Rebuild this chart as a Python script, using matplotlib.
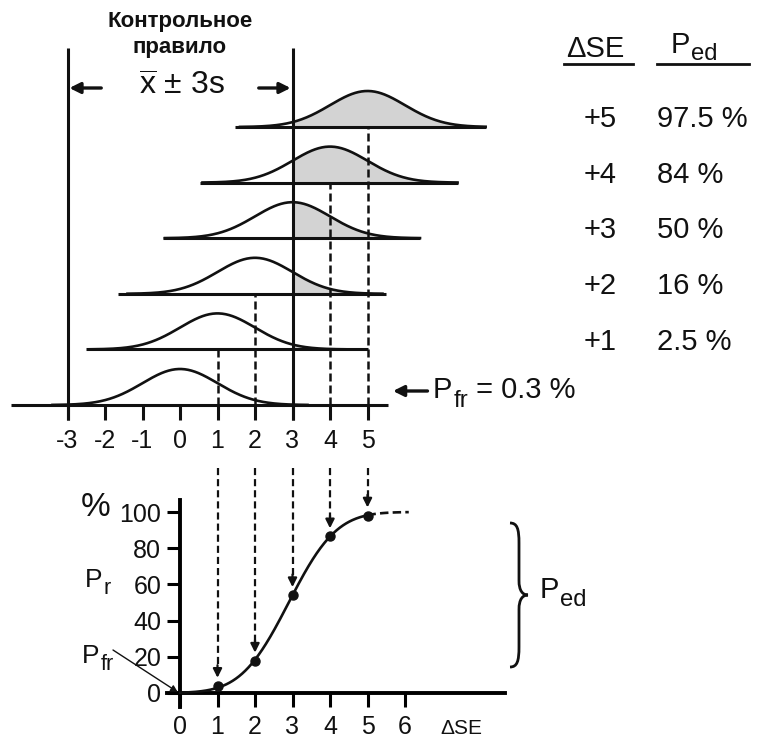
import math

import numpy as np
import matplotlib
matplotlib.use("Agg")
import matplotlib.pyplot as plt
from matplotlib.path import Path
from matplotlib.patches import PathPatch

plt.rcParams["font.family"] = ["Liberation Sans", "DejaVu Sans"]
plt.rcParams["mathtext.fontset"] = "custom"
plt.rcParams["mathtext.rm"] = "Liberation Sans"
plt.rcParams["mathtext.it"] = "Liberation Sans:italic"
plt.rcParams["mathtext.bf"] = "Liberation Sans:bold"

# --- data ------------------------------------------------------------------
SHIFTS = [0, 1, 2, 3, 4, 5]                        # ΔSE of each stacked distribution
BASE_LEFT = [-4.5, -2.5, -1.65, -0.45, 0.53, 1.47]  # where each baseline starts (s units)
BASE_RIGHT = [5.55, 5.0, 5.5, 6.4, 7.4, 8.15]     # where each baseline ends
CONTROL_LIMITS = [-3, 3]
TOP_TICKS = [-3, -2, -1, 0, 1, 2, 3, 4, 5]
TABLE_SE = ["+1", "+2", "+3", "+4", "+5"]
TABLE_PED = ["2.5 %", "16 %", "50 %", "84 %", "97.5 %"]
P_FR_TEXT = " = 0.3 %"

POWER_SE = [1, 2, 3, 4, 5]
POWER_PR = [3.9, 17.8, 54.0, 86.5, 98.0]
CURVE_MID = 2.9          # drawn power curve crosses 50 % just before ΔSE = 3
X_TICKS = [0, 1, 2, 3, 4, 5, 6]
Y_TICKS = [0, 20, 40, 60, 80, 100]

# --- layout (pixels of the 763x740 figure) ----------------------------------
W, H = 763, 740
ORIGIN_X = 180.0     # px of x = 0 (both panels)
UNIT_X = 37.5        # px per s
ROW0_Y = 405.0       # px of lowest baseline
ROW_PX = 55.6        # px between baselines
PEAK = 36.0 / ROW_PX
BOT_ZERO_Y = 693.0   # px of 0 % in the lower panel
PCT_PX = 1.81        # px per %

BLACK = "#111111"
GRAY = "#d3d3d3"


def fx(px):
    return px / W


def fy(py):
    return 1 - py / H


fig = plt.figure(figsize=(W / 100, H / 100), dpi=100)
renderer = fig.canvas.get_renderer()


def sub_label(x_px, base_px, main, sub, size, drop, tail=""):
    # "P" + lowered, slightly smaller subscript, like the original lettering
    t = fig.text(fx(x_px), fy(base_px), main, fontsize=size, ha="left",
                 va="baseline", color=BLACK)
    x1 = t.get_window_extent(renderer).x1
    s = fig.text(x1 / W + 0.001, fy(base_px + drop), sub, fontsize=size * 0.82,
                 ha="left", va="baseline", color=BLACK)
    if tail:
        x2 = s.get_window_extent(renderer).x1
        fig.text(x2 / W, fy(base_px), tail, fontsize=size, ha="left",
                 va="baseline", color=BLACK)


# upper panel: whole figure, x in s units, y in row units
ax = fig.add_axes([0, 0, 1, 1])
ax.set_xlim(-ORIGIN_X / UNIT_X, (W - ORIGIN_X) / UNIT_X)
ax.set_ylim((ROW0_Y - H) / ROW_PX, ROW0_Y / ROW_PX)
ax.axis("off")

for row, m in enumerate(SHIFTS):
    x = np.linspace(max(m - 3.4, BASE_LEFT[row]), min(m + 3.4, BASE_RIGHT[row]), 300)
    y = row + PEAK * np.exp(-0.5 * (x - m) ** 2)
    if m >= 1:
        sel = x >= CONTROL_LIMITS[1]
        ax.fill_between(x[sel], row, y[sel], color=GRAY, lw=0, zorder=1)
    ax.plot(x, y, color=BLACK, lw=1.9, zorder=3)
    ax.plot([BASE_LEFT[row], BASE_RIGHT[row]], [row, row], color=BLACK, lw=2.2,
            solid_capstyle="butt", zorder=3)

for k in SHIFTS:
    if k in CONTROL_LIMITS or k == 0:
        continue
    ax.plot([k, k], [0, k], color=BLACK, lw=1.8, dashes=(3.2, 1.6), zorder=2)

ax.vlines(TOP_TICKS, -0.27, 0, color=BLACK, lw=2.2, zorder=3)
ax.vlines(CONTROL_LIMITS, -0.27, (ROW0_Y - 48) / ROW_PX, color=BLACK, lw=2.2, zorder=4)
for t in TOP_TICKS:
    ax.text(t, (ROW0_Y - 441) / ROW_PX, str(t), ha="center", va="center",
            fontsize=18, color=BLACK)

# control rule label
fig.text(fx(180), fy(21), "Контрольное", ha="center", va="center",
         fontsize=16, fontweight="bold", color=BLACK)
fig.text(fx(180), fy(48), "правило", ha="center", va="center",
         fontsize=16, fontweight="bold", color=BLACK)
arr_y = (ROW0_Y - 88) / ROW_PX
fig.text(fx(182), fy(87), r"$\overline{\mathrm{x}}$ ± 3s", ha="center", va="center",
         fontsize=23, color=BLACK)
for x_from, x_to in [(-2.1, -2.95), (2.1, 2.95)]:
    ax.annotate("", xy=(x_to, arr_y), xytext=(x_from, arr_y),
                arrowprops=dict(arrowstyle="-|>", lw=2.4, color=BLACK,
                                mutation_scale=16, shrinkA=0, shrinkB=0))

# P_fr marker
pfr_y = (ROW0_Y - 391) / ROW_PX
ax.annotate("", xy=(5.68, pfr_y), xytext=(6.6, pfr_y),
            arrowprops=dict(arrowstyle="-|>", lw=2.4, color=BLACK,
                            mutation_scale=16, shrinkA=0, shrinkB=0))
sub_label(433, 398, "P", "fr", 21, drop=9, tail=P_FR_TEXT)

# table
fig.text(fx(595), fy(49), "ΔSE", ha="center", va="center", fontsize=21, color=BLACK)
sub_label(671, 53, "P", "ed", 21, drop=7)
fig.add_artist(plt.Line2D([fx(564), fx(633)], [fy(64), fy(64)], color=BLACK, lw=2))
fig.add_artist(plt.Line2D([fx(657), fx(749)], [fy(64), fy(64)], color=BLACK, lw=2))
for i, (se, ped) in enumerate(zip(TABLE_SE, TABLE_PED)):
    row_y = i + 1 + 0.14
    ax.text((617 - ORIGIN_X) / UNIT_X, row_y, se, ha="right", va="center",
            fontsize=21, color=BLACK)
    ax.text((657 - ORIGIN_X) / UNIT_X, row_y, ped, ha="left", va="center",
            fontsize=21, color=BLACK)

# lower panel: power curve
left, right, top, bottom = 167, 505, 500, 707
axb = fig.add_axes([fx(left), fy(bottom), (right - left) / W, (bottom - top) / H])
axb.set_xlim((left - ORIGIN_X) / UNIT_X, (right - ORIGIN_X) / UNIT_X)
axb.set_ylim((BOT_ZERO_Y - bottom) / PCT_PX, (BOT_ZERO_Y - top) / PCT_PX)
axb.patch.set_alpha(0)
for side in ["top", "right"]:
    axb.spines[side].set_visible(False)
axb.spines["left"].set_position(("data", 0))
axb.spines["bottom"].set_position(("data", 0))
axb.spines["left"].set_linewidth(2.8)
axb.spines["bottom"].set_linewidth(2.8)
axb.set_xticks(X_TICKS)
axb.set_yticks(Y_TICKS)
axb.tick_params(axis="x", direction="out", length=10, width=2.2, labelsize=18,
                pad=6, labelcolor=BLACK)
axb.tick_params(axis="y", direction="out", length=9.5, width=2.2, labelsize=18,
                pad=4, labelcolor=BLACK)

xs = np.linspace(0, POWER_SE[-1], 300)
pr = [50 * (1 + math.erf((v - CURVE_MID) / math.sqrt(2))) for v in xs]
axb.plot(xs, pr, color=BLACK, lw=1.9, zorder=3)
xs2 = np.linspace(POWER_SE[-1], 6.1, 60)
pr2 = [50 * (1 + math.erf((v - CURVE_MID) / math.sqrt(2))) for v in xs2]
axb.plot(xs2, pr2, color=BLACK, lw=1.9, dashes=(3.2, 1.6), zorder=3)
axb.plot(POWER_SE, POWER_PR, "o", color=BLACK, ms=6.5, zorder=4)

arrow_top = (BOT_ZERO_Y - 468) / PCT_PX
for se, p in zip(POWER_SE, POWER_PR):
    tip = p + 4.5
    axb.plot([se, se], [arrow_top, tip + 6], color=BLACK, lw=1.6,
             dashes=(3.2, 1.8), clip_on=False)
    axb.annotate("", xy=(se, tip), xytext=(se, tip + 7),
                 arrowprops=dict(arrowstyle="-|>", lw=1.6, color=BLACK,
                                 mutation_scale=13, shrinkA=0, shrinkB=0),
                 annotation_clip=False)

axb.text(7.5, (BOT_ZERO_Y - 728) / PCT_PX, "ΔSE", ha="center", va="center",
         fontsize=15, color=BLACK)
fig.text(fx(96), fy(508), "%", ha="center", va="center", fontsize=24, color=BLACK)
sub_label(85, 587, "P", "r", 19, drop=7)
sub_label(82, 663, "P", "fr", 19, drop=7)
axb.annotate("", xy=(-0.06, 0.5), xytext=((113 - ORIGIN_X) / UNIT_X, (BOT_ZERO_Y - 650) / PCT_PX),
             arrowprops=dict(arrowstyle="-|>", lw=1.0, color=BLACK,
                             mutation_scale=10, shrinkA=0, shrinkB=0),
             annotation_clip=False)

# brace for P_ed
bx0, bx1 = (510 - ORIGIN_X) / UNIT_X, (528 - ORIGIN_X) / UNIT_X
by0, by1 = (BOT_ZERO_Y - 667) / PCT_PX, (BOT_ZERO_Y - 523) / PCT_PX
unit = [(0, 1), (0.4, 1), (0.5, 0.96), (0.5, 0.86), (0.5, 0.6),
        (0.5, 0.53), (0.7, 0.5), (1, 0.5),
        (0.7, 0.5), (0.5, 0.47), (0.5, 0.4), (0.5, 0.14),
        (0.5, 0.04), (0.4, 0), (0, 0)]
codes = [Path.MOVETO] + [Path.CURVE4] * 3 + [Path.LINETO] + [Path.CURVE4] * 6 + \
        [Path.LINETO] + [Path.CURVE4] * 3
verts = [(bx0 + u * (bx1 - bx0), by0 + v * (by1 - by0)) for u, v in unit]
axb.add_patch(PathPatch(Path(verts, codes), fill=False, lw=2.0, color=BLACK,
                        clip_on=False))
sub_label(540, 598, "P", "ed", 21, drop=8)

fig.savefig("out.png", dpi=100, facecolor="white")
